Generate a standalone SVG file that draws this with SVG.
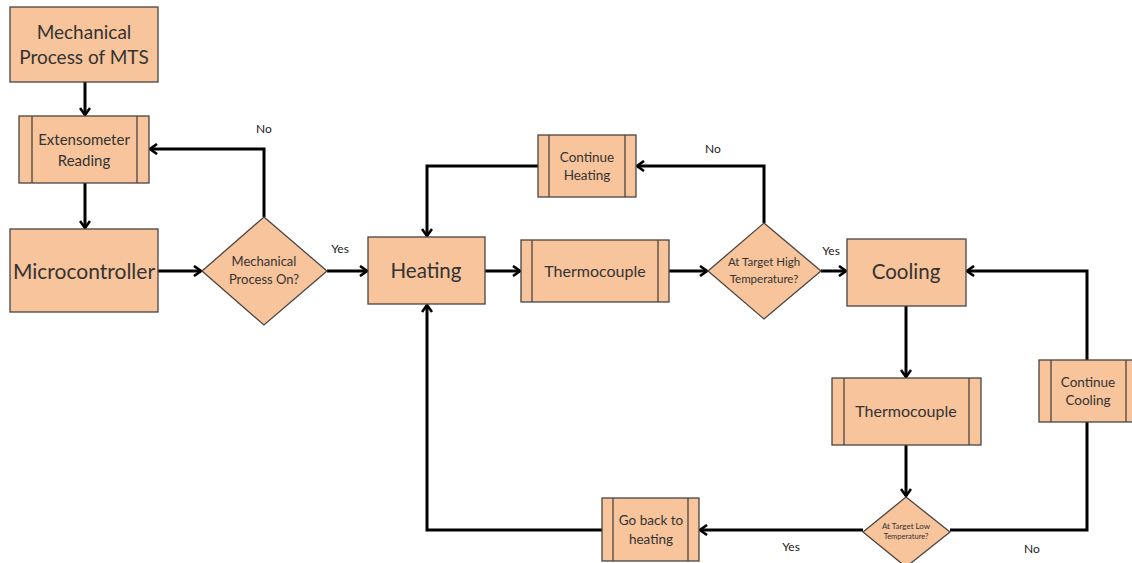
<svg xmlns="http://www.w3.org/2000/svg" width="1132" height="563" viewBox="0 0 1132 563">
<style>
.box{fill:#F8C49B;stroke:#4a4441;stroke-width:1.3}
.in{stroke:#4a4441;stroke-width:1.3}
.t{font-family:Lato,"Liberation Sans",sans-serif;fill:#333;text-anchor:middle}
.lbl{font-family:Lato,"Liberation Sans",sans-serif;fill:#222;font-size:12px;text-anchor:middle}
.c{fill:none;stroke:#000;stroke-width:3}
</style>
<defs>
<marker id="ah" viewBox="0 0 12 12" refX="10" refY="6" markerWidth="12" markerHeight="12" markerUnits="userSpaceOnUse" orient="auto">
<path d="M3,1 L10,6 L3,11" fill="none" stroke="#000" stroke-width="2.6"/>
</marker>
</defs>
<rect width="1132" height="563" fill="#fff"/>
<g id="connectors">
<path class="c" d="M85,82 V115" marker-end="url(#ah)"/>
<path class="c" d="M85,183 V228" marker-end="url(#ah)"/>
<path class="c" d="M158,271 H201" marker-end="url(#ah)"/>
<path class="c" d="M264,217 V149 H150" marker-end="url(#ah)"/>
<path class="c" d="M327,271 H367" marker-end="url(#ah)"/>
<path class="c" d="M485,271 H520" marker-end="url(#ah)"/>
<path class="c" d="M669,271 H707" marker-end="url(#ah)"/>
<path class="c" d="M764,223 V166 H637" marker-end="url(#ah)"/>
<path class="c" d="M538,166 H427 V236" marker-end="url(#ah)"/>
<path class="c" d="M821,271 H846" marker-end="url(#ah)"/>
<path class="c" d="M906,306 V377" marker-end="url(#ah)"/>
<path class="c" d="M906,445 V496" marker-end="url(#ah)"/>
<path class="c" d="M950,530 H1087 V422"/>
<path class="c" d="M1087,360 V271 H967" marker-end="url(#ah)"/>
<path class="c" d="M863,530 H700" marker-end="url(#ah)"/>
<path class="c" d="M602,530 H427 V305" marker-end="url(#ah)"/>
<text class="lbl" x="264" y="133">No</text>
<text class="lbl" x="340" y="253">Yes</text>
<text class="lbl" x="713" y="153">No</text>
<text class="lbl" x="831" y="255">Yes</text>
<text class="lbl" x="791" y="551">Yes</text>
<text class="lbl" x="1032" y="553">No</text>
</g>
<g id="mts">
<rect class="box" x="10" y="7" width="148" height="75"/>
<text class="t" font-size="19" x="84" y="39">Mechanical</text>
<text class="t" font-size="19" x="84" y="64">Process of MTS</text>
</g>
<g id="extensometer">
<rect class="box" x="19" y="116" width="130" height="67"/>
<line class="in" x1="32" y1="116" x2="32" y2="183"/>
<line class="in" x1="137" y1="116" x2="137" y2="183"/>
<text class="t" font-size="15" x="84" y="145">Extensometer</text>
<text class="t" font-size="15" x="84" y="166">Reading</text>
</g>
<g id="microcontroller">
<rect class="box" x="10" y="229" width="148" height="83"/>
<text class="t" font-size="21" x="84" y="279">Microcontroller</text>
</g>
<g id="mech-on">
<polygon class="box" points="264,217 327,271 264,325 202,271"/>
<text class="t" font-size="13" x="264" y="266">Mechanical</text>
<text class="t" font-size="13" x="264" y="284">Process On?</text>
</g>
<g id="heating">
<rect class="box" x="368" y="237" width="117" height="67"/>
<text class="t" font-size="20.5" x="426" y="278">Heating</text>
</g>
<g id="thermo1">
<rect class="box" x="521" y="240" width="148" height="62"/>
<line class="in" x1="532" y1="240" x2="532" y2="302"/>
<line class="in" x1="658" y1="240" x2="658" y2="302"/>
<text class="t" font-size="16" x="595" y="277">Thermocouple</text>
</g>
<g id="target-high">
<polygon class="box" points="764,223 821,271 764,319 708,271"/>
<text class="t" font-size="11.5" x="764" y="266">At Target High</text>
<text class="t" font-size="11.5" x="764" y="283">Temperature?</text>
</g>
<g id="continue-heating">
<rect class="box" x="538" y="135" width="98" height="62"/>
<line class="in" x1="549" y1="135" x2="549" y2="197"/>
<line class="in" x1="625" y1="135" x2="625" y2="197"/>
<text class="t" font-size="13.5" x="587" y="162">Continue</text>
<text class="t" font-size="13.5" x="587" y="180">Heating</text>
</g>
<g id="cooling">
<rect class="box" x="847" y="239" width="119" height="67"/>
<text class="t" font-size="20.5" x="906" y="279">Cooling</text>
</g>
<g id="thermo2">
<rect class="box" x="832" y="378" width="149" height="67"/>
<line class="in" x1="844" y1="378" x2="844" y2="445"/>
<line class="in" x1="969" y1="378" x2="969" y2="445"/>
<text class="t" font-size="16" x="906" y="417">Thermocouple</text>
</g>
<g id="target-low">
<polygon class="box" points="906,497 950,532 906,567 863,532"/>
<text class="t" font-size="8" x="906" y="529">At Target Low</text>
<text class="t" font-size="7.5" x="906" y="539">Temperature?</text>
</g>
<g id="continue-cooling">
<rect class="box" x="1039" y="360" width="94" height="62"/>
<line class="in" x1="1051" y1="360" x2="1051" y2="422"/>
<line class="in" x1="1126" y1="360" x2="1126" y2="422"/>
<text class="t" font-size="13.5" x="1088" y="387">Continue</text>
<text class="t" font-size="13.5" x="1088" y="405">Cooling</text>
</g>
<g id="go-back">
<rect class="box" x="602" y="498" width="97" height="63"/>
<line class="in" x1="613" y1="498" x2="613" y2="561"/>
<line class="in" x1="688" y1="498" x2="688" y2="561"/>
<text class="t" font-size="13.5" x="651" y="525">Go back to</text>
<text class="t" font-size="13.5" x="651" y="544">heating</text>
</g>
</svg>
